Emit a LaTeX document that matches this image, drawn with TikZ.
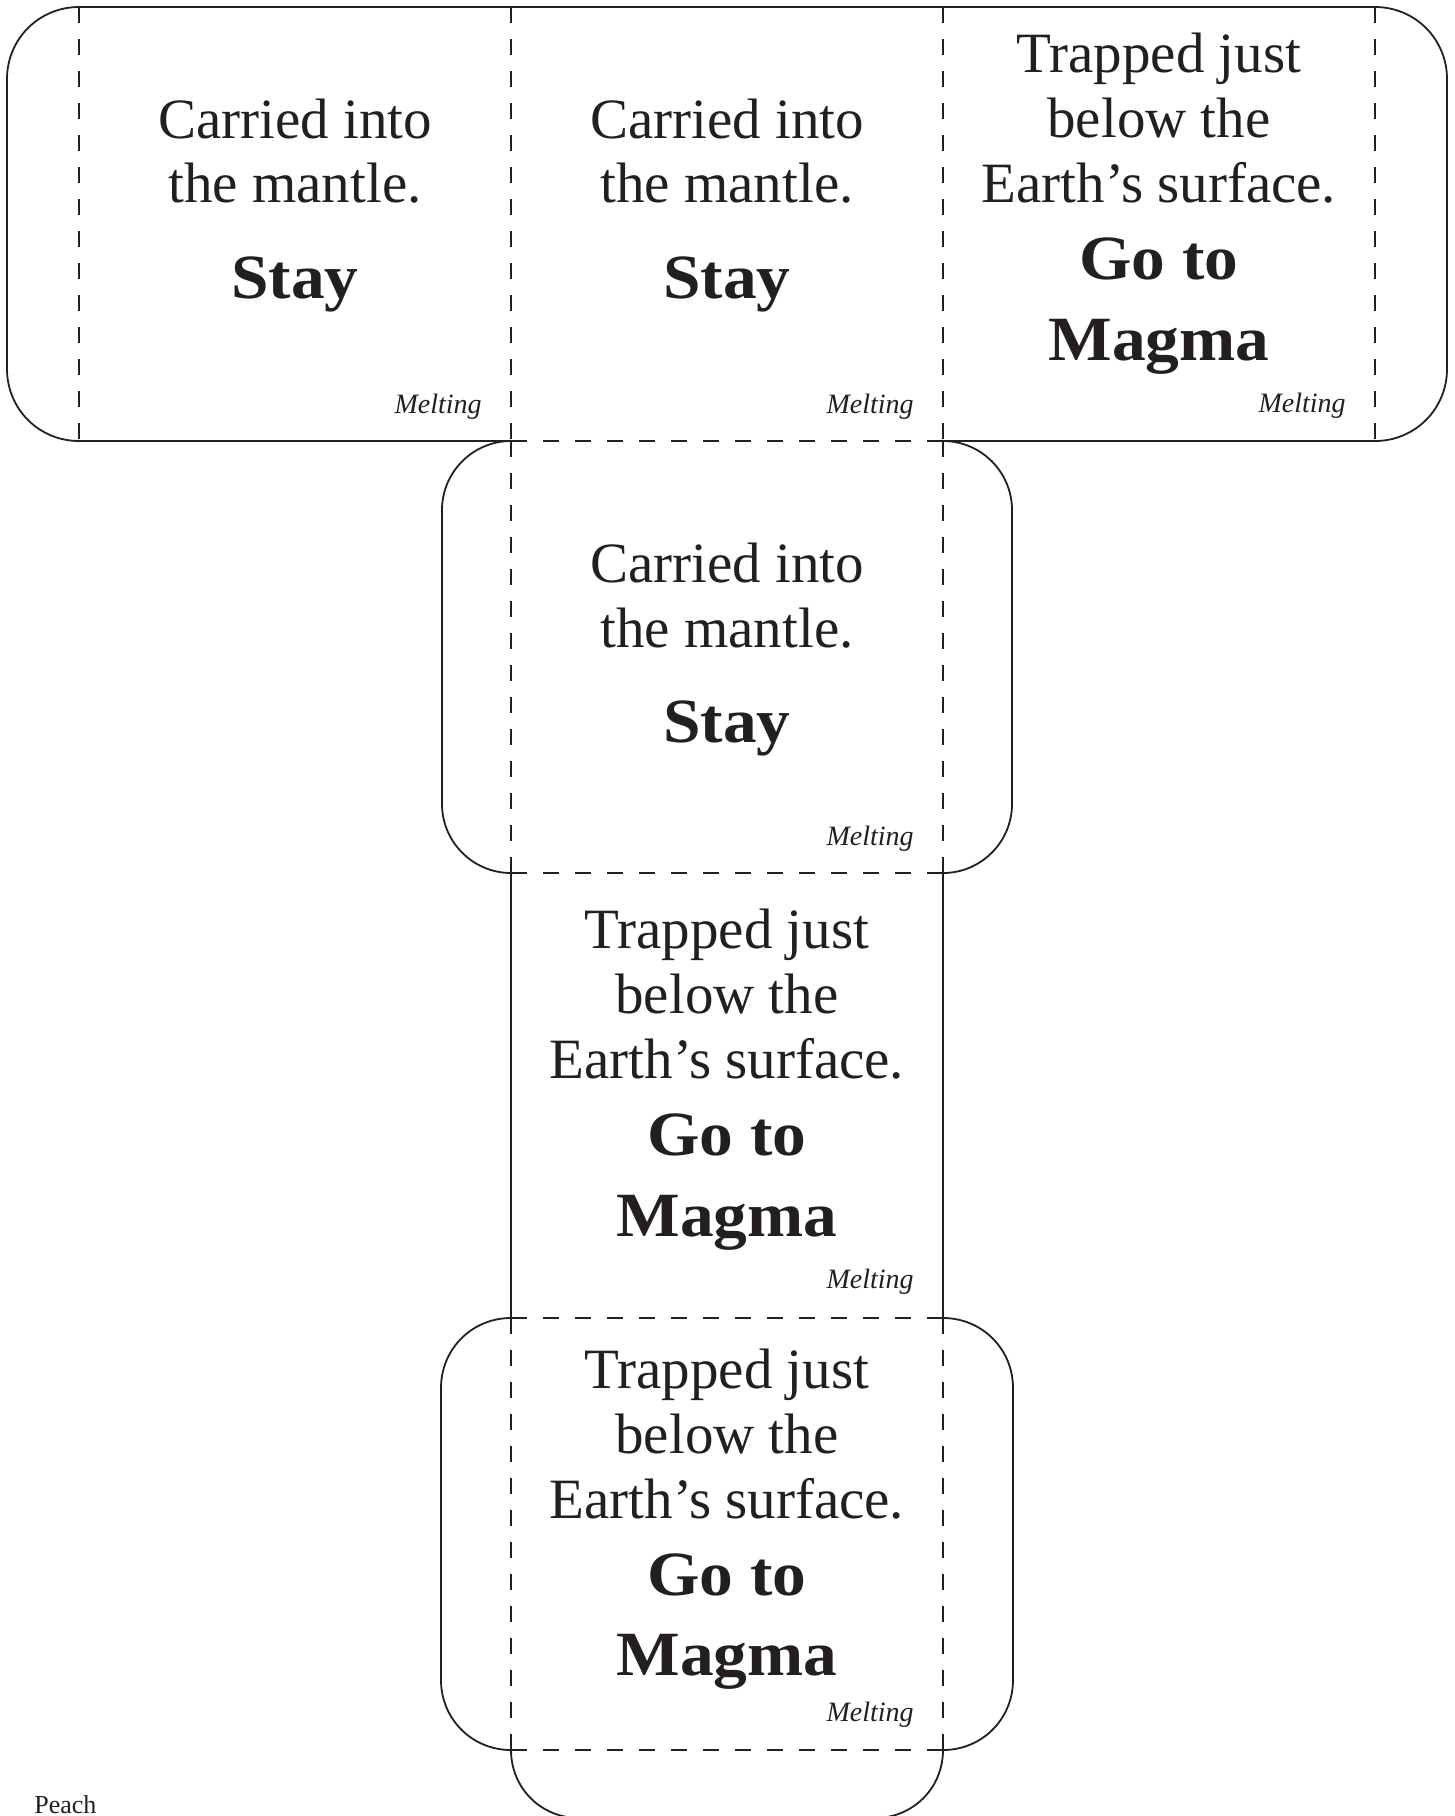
\documentclass[tikz,border=0pt]{standalone}
\usepackage{fontspec}
\setmainfont{Liberation Serif}
\newfontfamily\bcard[FakeStretch=1.07]{Liberation Serif}
\definecolor{ink}{RGB}{35,31,32}
\tikzset{
  outline/.style={draw=ink, line width=0.9pt, line join=round},
  fold/.style={draw=ink, line width=0.9pt, dash pattern=on 8pt off 8pt},
  reg/.style={anchor=base, inner sep=0pt, text=ink, font=\fontsize{28.5pt}{32pt}\selectfont},
  bld/.style={anchor=base, inner sep=0pt, text=ink, font=\bcard\bfseries\fontsize{31.5pt}{36pt}\selectfont},
  mel/.style={anchor=base east, inner sep=0pt, text=ink, font=\itshape\fontsize{14pt}{16pt}\selectfont},
  lbl/.style={anchor=base west, inner sep=0pt, text=ink, font=\fontsize{13pt}{15pt}\selectfont}
}
\begin{document}
\begin{tikzpicture}[x=0.5pt, y=-0.5pt]
\useasboundingbox (0,0) rectangle (1455,1816);
% outer cut line
\draw[outline] (79,441) .. controls (39,441) and (7,409) .. (7,369) -- (7,79)
  .. controls (7,39) and (39,7) .. (79,7) -- (1375,7)
  .. controls (1415,7) and (1447,39) .. (1447,79) -- (1447,369)
  .. controls (1447,409) and (1415,441) .. (1375,441) -- (943,441)
  .. controls (981,441) and (1012,472) .. (1012,510) -- (1012,804)
  .. controls (1012,842) and (981,873) .. (943,873) -- (943,1318)
  .. controls (982,1318) and (1013,1349) .. (1013,1388) -- (1013,1680)
  .. controls (1013,1719) and (982,1750) .. (943,1750)
  .. controls (943,1788) and (913,1818) .. (875,1818) -- (579,1818)
  .. controls (541,1818) and (511,1788) .. (511,1750)
  .. controls (472,1750) and (441,1719) .. (441,1680) -- (441,1388)
  .. controls (441,1349) and (472,1318) .. (511,1318) -- (511,873)
  .. controls (473,873) and (442,842) .. (442,804) -- (442,510)
  .. controls (442,472) and (473,441) .. (511,441) -- cycle;
% fold lines
\foreach \x in {79,511,943,1375} \draw[fold] (\x,7) -- (\x,441);
\draw[fold] (511,441) -- (943,441);
\draw[fold] (511,441) -- (511,873);
\draw[fold] (943,441) -- (943,873);
\draw[fold] (511,873) -- (943,873);
\draw[fold] (511,1318) -- (943,1318);
\draw[fold] (511,1318) -- (511,1750);
\draw[fold] (943,1318) -- (943,1750);
\draw[fold] (511,1750) -- (943,1750);
% card A
\node[reg] (a1) at (295,138) {Carried into};
\node[reg] (a2) at (295,202) {the mantle.};
\node[bld] (a3) at (295,298) {Stay};
\node[mel] (a4) at (482,413) {Melting};
% card B
\node[reg] (b1) at (727,138) {Carried into};
\node[reg] (b2) at (727,202) {the mantle.};
\node[bld] (b3) at (727,298) {Stay};
\node[mel] (b4) at (914,413) {Melting};
% card C
\node[reg] (c1) at (1159,72) {Trapped just};
\node[reg] (c2) at (1159,137) {below the};
\node[reg] (c3) at (1159,202) {Earth’s surface.};
\node[bld] (c4) at (1159,279) {Go to};
\node[bld] (c5) at (1159,360) {Magma};
\node[mel] (c6) at (1346,412) {Melting};
% card D
\node[reg] (d1) at (727,582) {Carried into};
\node[reg] (d2) at (727,647) {the mantle.};
\node[bld] (d3) at (727,742) {Stay};
\node[mel] (d4) at (914,845) {Melting};
% card E
\node[reg] (e1) at (727,948) {Trapped just};
\node[reg] (e2) at (727,1013) {below the};
\node[reg] (e3) at (727,1078) {Earth’s surface.};
\node[bld] (e4) at (727,1155) {Go to};
\node[bld] (e5) at (727,1236) {Magma};
\node[mel] (e6) at (914,1288) {Melting};
% card F
\node[reg] (f1) at (727,1388) {Trapped just};
\node[reg] (f2) at (727,1453) {below the};
\node[reg] (f3) at (727,1518) {Earth’s surface.};
\node[bld] (f4) at (727,1595) {Go to};
\node[bld] (f5) at (727,1675) {Magma};
\node[mel] (f6) at (914,1721) {Melting};
% label
\node[lbl] (peach) at (34,1813) {Peach};
\end{tikzpicture}
\end{document}
